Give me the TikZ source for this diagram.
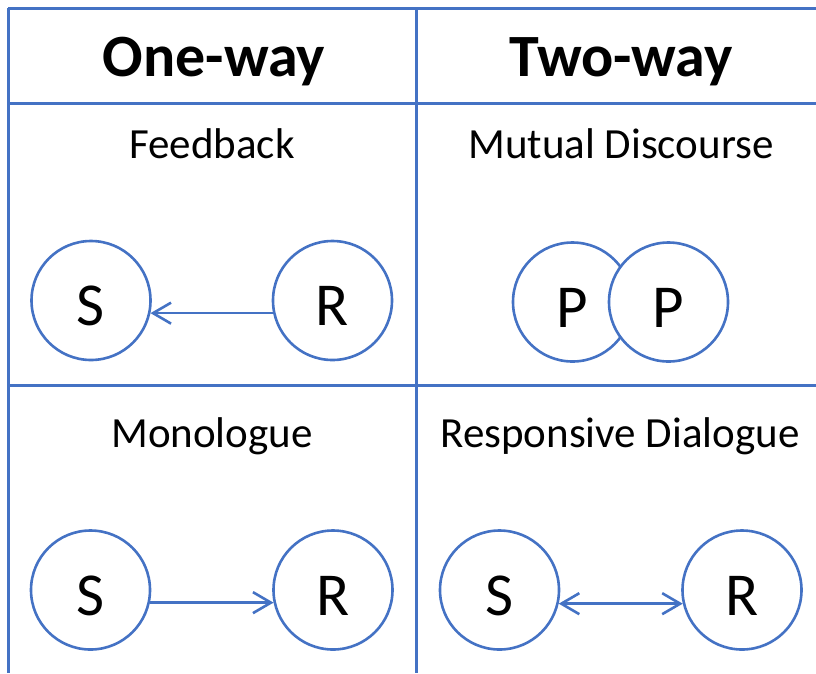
\documentclass[tikz,border=0pt]{standalone}
\usepackage{fontspec}
\setmainfont{Carlito}
\usetikzlibrary{arrows.meta}
\definecolor{gridblue}{HTML}{4472C4}

\begin{document}
\begin{tikzpicture}[x=1pt,y=-1pt,
  rule/.style={draw=gridblue, line width=3pt},
  party/.style={circle, draw=gridblue, line width=2.6pt, minimum size=119pt,
    inner sep=0pt, font=\fontsize{61}{61}\selectfont, text height=50pt, text depth=0pt},
  head/.style={font=\fontsize{60}{72}\selectfont\bfseries, anchor=base},
  caption/.style={font=\fontsize{43}{50}\selectfont, anchor=base},
  link/.style={draw=gridblue, line width=2.6pt},
  tipend/.tip={Straight Barb[length=18pt,width=21pt]}
]
\useasboundingbox (0,0) rectangle (816,673);

% table rules
\draw[rule] (8,8) -- (816,8);
\draw[rule] (8,103) -- (816,103);
\draw[rule] (8,385) -- (816,385);
\draw[rule] (8,8) -- (8,673);
\draw[rule] (416,8) -- (416,673);

% column headings
\node[head] (h1) at (214,76) {One-way};
\node[head] (h2) at (621,76) {Two-way};

% cell captions
\node[caption] (c1) at (212,158) {Feedback};
\node[caption] (c2) at (621,158) {Mutual Discourse};
\node[caption] (c3) at (212,447) {Monologue};
\node[caption] (c4) at (620,447) {Responsive Dialogue};

% feedback
\node[party] (fbS) at (91,300.5) {S};
\node[party] (fbR) at (332.5,300.5) {R};
\draw[link, -tipend] (fbR.192) -- (fbS.-12);

% mutual discourse: the second circle sits on top of the first
\node[party] (mdA) at (572.5,302) {P};
\node[party, fill=white] (mdB) at (668.5,302) {P};

% monologue
\node[party] (moS) at (90.5,590) {S};
\node[party] (moR) at (333,590) {R};
\draw[link, -tipend] (moS.-12) -- (moR.192);

% responsive dialogue
\node[party] (rdS) at (499.5,590) {S};
\node[party] (rdR) at (742,590) {R};
\draw[link, tipend-tipend] (rdS.-13) -- (rdR.193);
\end{tikzpicture}
\end{document}
